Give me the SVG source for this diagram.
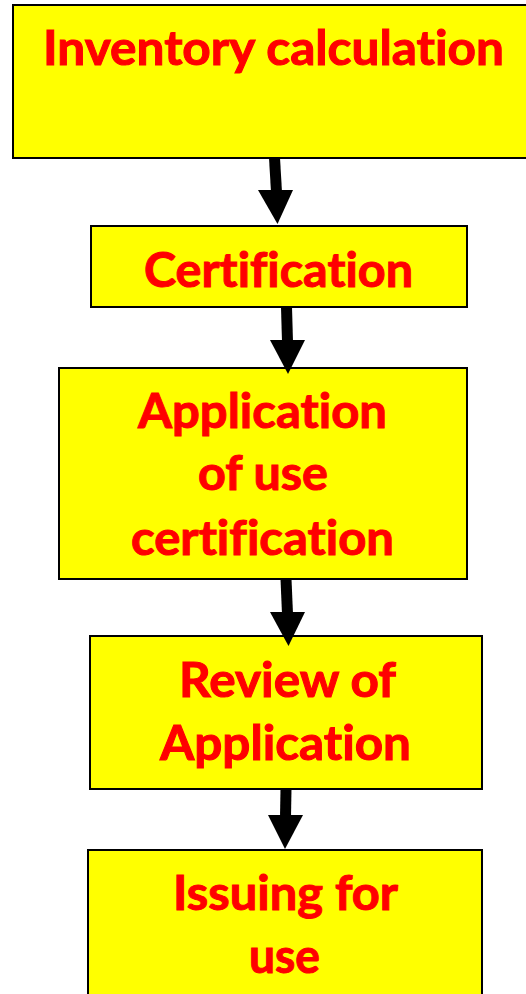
<svg xmlns="http://www.w3.org/2000/svg" width="526" height="994" viewBox="0 0 526 994">
<style>
.box{fill:#ffff00;stroke:#000;stroke-width:2}
.t{font-family:Lato,"Open Sans","Liberation Sans",sans-serif;font-weight:bold;font-size:47px;fill:#ff0000;stroke:#ff0000;stroke-width:1;text-anchor:middle;font-variant-ligatures:none;font-feature-settings:"liga" 0,"clig" 0}
.shaft{stroke:#000;stroke-width:11;fill:none}
.head{fill:#000}
</style>
<rect width="526" height="994" fill="#fff"/>
<g id="inventory">
<rect class="box" x="13" y="5" width="522" height="153"/>
<text class="t" x="273.5" y="65" textLength="461" lengthAdjust="spacingAndGlyphs">Inventory calculation</text>
</g>
<g id="certification">
<rect class="box" x="91" y="226" width="376" height="81"/>
<text class="t" x="278.5" y="287" textLength="269" lengthAdjust="spacingAndGlyphs">Certification</text>
</g>
<g id="application">
<rect class="box" x="59" y="368" width="408" height="211"/>
<text class="t" x="262.5" y="428" textLength="249" lengthAdjust="spacingAndGlyphs">Application</text>
<text class="t" x="263" y="490" textLength="130" lengthAdjust="spacingAndGlyphs">of use</text>
<text class="t" x="262.5" y="555" textLength="263" lengthAdjust="spacingAndGlyphs">certification</text>
</g>
<g id="review">
<rect class="box" x="90" y="636" width="392" height="153"/>
<text class="t" x="287.5" y="697" textLength="217" lengthAdjust="spacingAndGlyphs">Review of</text>
<text class="t" x="285.5" y="760" textLength="251" lengthAdjust="spacingAndGlyphs">Application</text>
</g>
<g id="issuing">
<rect class="box" x="88" y="850" width="394" height="160"/>
<text class="t" x="285.5" y="910" textLength="225" lengthAdjust="spacingAndGlyphs">Issuing for</text>
<text class="t" x="284.5" y="973" textLength="71" lengthAdjust="spacingAndGlyphs">use</text>
</g>
<g id="connectors">
<line class="shaft" x1="274.5" y1="158" x2="276.5" y2="192"/>
<polygon class="head" points="258,190 293,190 277.5,224"/>
<line class="shaft" x1="286.5" y1="307" x2="287.5" y2="342"/>
<polygon class="head" points="270,340 305,340 288,374"/>
<line class="shaft" x1="286" y1="579" x2="287.5" y2="614"/>
<polygon class="head" points="270,612 305,612 288.5,646"/>
<line class="shaft" x1="286" y1="789" x2="285.5" y2="817"/>
<polygon class="head" points="268,815 303,815 285,849"/>
</g>
</svg>
